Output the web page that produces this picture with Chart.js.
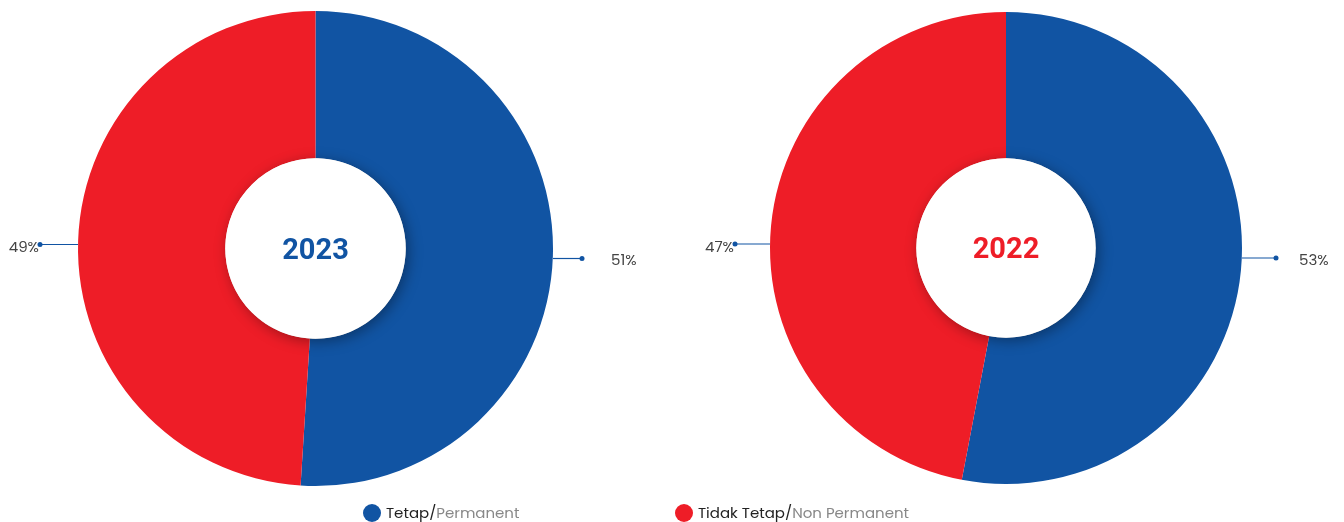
<!DOCTYPE html>
<html>
<head>
<meta charset="utf-8">
<script src="https://cdn.jsdelivr.net/npm/chart.js@4.4.0/dist/chart.umd.min.js"></script>
<style>
  body { margin:0; background:#fff; width:1344px; height:522px; overflow:hidden; position:relative; font-family:Poppins, "Open Sans", Roboto, sans-serif; }
  canvas { position:absolute; top:0; }
  .leg { position:absolute; top:504px; font-size:15px; line-height:18px; white-space:nowrap; }
  .dot { display:inline-block; width:18px; height:18px; border-radius:50%; vertical-align:top; margin-right:5px; }
  .main { color:#222; }
  .sub { color:#888; }
</style>
</head>
<body>
<canvas id="c2023" width="672" height="522" style="left:0"></canvas>
<canvas id="c2022" width="672" height="522" style="left:672px"></canvas>
<div class="leg" style="left:363px"><span class="dot" style="background:#1154a3"></span><span class="main">Tetap/</span><span class="sub">Permanent</span></div>
<div class="leg" style="left:675px"><span class="dot" style="background:#ee1d27"></span><span class="main">Tidak Tetap/</span><span class="sub">Non Permanent</span></div>
<script>
// data
const categories = ['Tetap/Permanent', 'Tidak Tetap/Non Permanent'];
const share2023 = [51, 49];
const share2022 = [53, 47];

const BLUE = '#1154a3';
const RED = '#ee1d27';

// draws white hole with shadow, year in middle and the two side labels
const donutDecor = {
    id: 'donutDecor',
    afterDatasetsDraw(chart, args, opts) {
        const ctx = chart.ctx;
        const meta = chart.getDatasetMeta(0);
        const arc = meta.data[0];
        const cx = arc.x, cy = arc.y;
        const r = arc.outerRadius, ri = arc.innerRadius;
        const vals = chart.data.datasets[0].data;

        // inner white circle with soft shadow
        ctx.save();
        ctx.shadowColor = 'rgba(0,0,0,0.35)';
        ctx.shadowBlur = 14;
        ctx.shadowOffsetX = 3;
        ctx.shadowOffsetY = 3;
        ctx.beginPath();
        ctx.arc(cx, cy, ri, 0, Math.PI * 2);
        ctx.fillStyle = '#fff';
        ctx.fill();
        ctx.restore();

        // year
        ctx.save();
        ctx.font = 'bold 29px Roboto, sans-serif';
        ctx.fillStyle = opts.yearColor;
        ctx.textAlign = 'center';
        ctx.textBaseline = 'middle';
        ctx.fillText(opts.year, cx, cy + 3);
        ctx.restore();

        // side labels
        ctx.save();
        ctx.strokeStyle = BLUE;
        ctx.fillStyle = BLUE;
        ctx.lineWidth = 1.2;
        // left (non permanent)
        let ly = cy - 4;
        let lx = cx - r - opts.leftLen;
        ctx.beginPath(); ctx.moveTo(cx - r, ly); ctx.lineTo(lx, ly); ctx.stroke();
        ctx.beginPath(); ctx.arc(lx, ly, 2.5, 0, Math.PI * 2); ctx.fill();
        // right (permanent)
        let ry = cy + 10;
        let rx = cx + r + opts.rightLen;
        ctx.beginPath(); ctx.moveTo(cx + r, ry); ctx.lineTo(rx, ry); ctx.stroke();
        ctx.beginPath(); ctx.arc(rx, ry, 2.5, 0, Math.PI * 2); ctx.fill();

        ctx.font = '15px Poppins, "Open Sans", Roboto, sans-serif';
        ctx.fillStyle = '#444';
        ctx.textBaseline = 'middle';
        ctx.textAlign = 'right';
        ctx.fillText(vals[1] + '%', lx - 1, ly + 4);
        ctx.textAlign = 'left';
        ctx.fillText(vals[0] + '%', rx + opts.gap, ry + 3);
        ctx.restore();
    }
};

function makeDonut(id, values, year, yearColor, padding, leftLen, rightLen, gap) {
    return new Chart(document.getElementById(id), {
        type: 'doughnut',
        data: {
            labels: categories,
            datasets: [{
                data: values,
                backgroundColor: [BLUE, RED],
                borderWidth: 0,
                hoverOffset: 0
            }]
        },
        options: {
            responsive: false,
            animation: false,
            cutout: '38%',
            layout: { padding: padding },
            plugins: {
                legend: { display: false },
                tooltip: { enabled: false },
                donutDecor: { year: year, yearColor: yearColor, leftLen: leftLen, rightLen: rightLen, gap: gap }
            }
        },
        plugins: [donutDecor]
    });
}

makeDonut('c2023', share2023, '2023', BLUE, { left: 78, right: 119, top: 11, bottom: 36 }, 38, 29, 29);
makeDonut('c2022', share2022, '2022', RED, { left: 98, right: 102, top: 12, bottom: 38 }, 35, 34, 23);
</script>
</body>
</html>
